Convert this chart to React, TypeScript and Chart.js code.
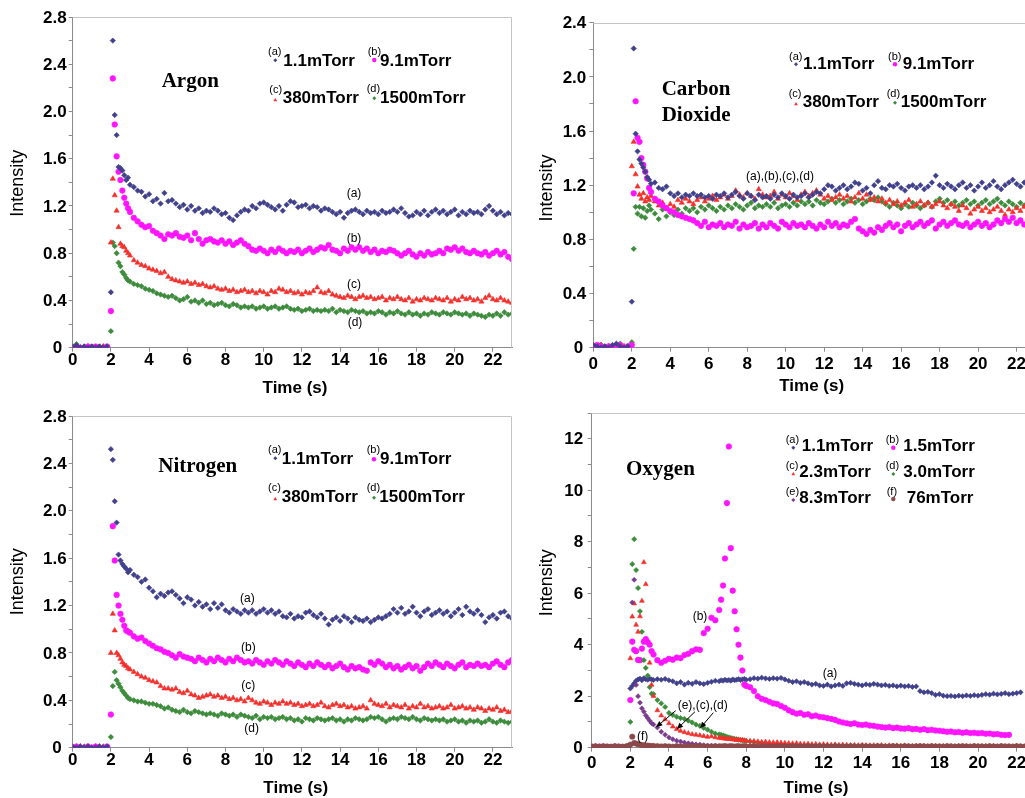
import React, { useEffect, useRef } from "react";
import { Chart, registerables } from "chart.js";

Chart.register(...registerables);

// ---------------- sampling grids (x values) ----------------
function buildTimes(segs: number[][]): number[] {
  const out: number[] = [];
  for (const [a, b, s] of segs) {
    const n = Math.round((b - a) / s);
    for (let i = 0; i <= n; i++) out.push(Math.round((a + i * s) * 100) / 100);
  }
  return out;
}
const T_STD = buildTimes([[0, 1.8, 0.2], [2.0, 3.0, 0.1], [3.2, 23.0, 0.2]]);
const T_O2 = buildTimes([[0, 1.8, 0.2], [1.9, 3.2, 0.1], [3.4, 6.6, 0.2], [6.7, 8.0, 0.1], [8.2, 23.0, 0.2]]);

// ---------------- tick labels ----------------
const X_LABELS = ["0", "2", "4", "6", "8", "10", "12", "14", "16", "18", "20", "22"];
const Y_LABELS_28 = ["0", "0.4", "0.8", "1.2", "1.6", "2.0", "2.4", "2.8"];
const Y_LABELS_24 = ["0", "0.4", "0.8", "1.2", "1.6", "2.0", "2.4"];
const Y_LABELS_O2 = ["0", "2", "4", "6", "8", "10", "12"];

// ---------------- Argon ----------------
const ARGON_A = [
  0.01, 0.02, 0.00, 0.01, 0.00, 0.01, 0.00, 0.01, 0.00, 0.01,
  0.47, 2.60, 1.97, 1.80, 1.53, 1.52, 1.50, 1.46, 1.42, 1.44, 1.38,
  1.36, 1.33, 1.32, 1.28, 1.30, 1.24, 1.26, 1.22, 1.31, 1.24,
  1.25, 1.22, 1.19, 1.21, 1.17, 1.20, 1.16, 1.18, 1.14, 1.16,
  1.15, 1.18, 1.16, 1.13, 1.14, 1.10, 1.08, 1.12, 1.15, 1.17,
  1.16, 1.20, 1.18, 1.22, 1.23, 1.21, 1.19, 1.17, 1.20, 1.16,
  1.21, 1.24, 1.23, 1.19, 1.20, 1.21, 1.18, 1.20, 1.19, 1.16,
  1.18, 1.17, 1.15, 1.13, 1.15, 1.10, 1.14, 1.16, 1.17, 1.15,
  1.13, 1.16, 1.14, 1.15, 1.13, 1.16, 1.14, 1.15, 1.17, 1.15,
  1.18, 1.14, 1.11, 1.12, 1.15, 1.13, 1.16, 1.12, 1.15, 1.17,
  1.14, 1.16, 1.13, 1.15, 1.17, 1.12, 1.15, 1.13, 1.16, 1.14,
  1.15, 1.13, 1.17, 1.20, 1.16, 1.13, 1.15, 1.12, 1.14, 1.13,
];
const ARGON_B = [
  0.00, 0.01, 0.00, 0.00, 0.01, 0.00, 0.01, 0.00, 0.00, 0.01,
  0.31, 2.28, 1.89, 1.62, 1.49, 1.42, 1.33, 1.27, 1.22, 1.18, 1.15,
  1.10, 1.07, 1.04, 1.02, 1.03, 0.99, 0.97, 0.95, 0.92, 0.96,
  0.95, 0.97, 0.94, 0.93, 0.95, 0.91, 0.97, 0.92, 0.88, 0.91,
  0.92, 0.90, 0.89, 0.91, 0.88, 0.90, 0.87, 0.89, 0.91, 0.88,
  0.86, 0.83, 0.82, 0.84, 0.82, 0.80, 0.83, 0.81, 0.84, 0.82,
  0.80, 0.82, 0.81, 0.83, 0.80, 0.82, 0.84, 0.81, 0.83, 0.85,
  0.84, 0.87, 0.83, 0.82, 0.80, 0.84, 0.82, 0.85, 0.83, 0.85,
  0.82, 0.84, 0.81, 0.83, 0.80, 0.82, 0.81, 0.83, 0.82, 0.80,
  0.78, 0.80, 0.82, 0.79, 0.77, 0.80, 0.78, 0.81, 0.79, 0.80,
  0.82, 0.80, 0.84, 0.83, 0.85, 0.82, 0.84, 0.81, 0.80, 0.82,
  0.80, 0.79, 0.81, 0.78, 0.80, 0.82, 0.79, 0.81, 0.77, 0.75,
];
const ARGON_C = [
  0.00, 0.01, 0.00, 0.00, 0.01, 0.00, 0.00, 0.00, 0.01, 0.00,
  0.89, 1.43, 1.29, 1.16, 1.02, 0.88, 0.86, 0.85, 0.82, 0.80, 0.78,
  0.74, 0.72, 0.70, 0.69, 0.67, 0.66, 0.65, 0.63, 0.64, 0.60,
  0.58, 0.57, 0.56, 0.55, 0.56, 0.54, 0.55, 0.53, 0.54, 0.52,
  0.51, 0.52, 0.50, 0.49, 0.50, 0.48, 0.49, 0.47, 0.48, 0.49,
  0.47, 0.48, 0.46, 0.48, 0.47, 0.45, 0.48, 0.47, 0.50, 0.49,
  0.47, 0.48, 0.46, 0.47, 0.45, 0.47, 0.46, 0.48, 0.51, 0.47,
  0.46, 0.48, 0.45, 0.44, 0.43, 0.42, 0.44, 0.43, 0.41, 0.43,
  0.44, 0.42, 0.43, 0.41, 0.42, 0.43, 0.40, 0.42, 0.41, 0.43,
  0.41, 0.40, 0.42, 0.39, 0.41, 0.40, 0.42, 0.41, 0.40, 0.42,
  0.41, 0.40, 0.42, 0.39, 0.41, 0.40, 0.43, 0.41, 0.42, 0.40,
  0.41, 0.39, 0.42, 0.44, 0.41, 0.40, 0.42, 0.40, 0.39, 0.38,
];
const ARGON_D = [
  0.01, 0.03, 0.00, 0.01, 0.00, 0.01, 0.00, 0.01, 0.01, 0.00,
  0.14, 0.89, 0.86, 0.80, 0.72, 0.69, 0.64, 0.62, 0.59, 0.57, 0.56,
  0.54, 0.53, 0.52, 0.50, 0.49, 0.48, 0.46, 0.45, 0.44, 0.43,
  0.44, 0.42, 0.40, 0.41, 0.43, 0.39, 0.40, 0.38, 0.40, 0.37,
  0.38, 0.36, 0.37, 0.38, 0.36, 0.35, 0.37, 0.36, 0.34, 0.35,
  0.34, 0.35, 0.33, 0.34, 0.35, 0.33, 0.34, 0.35, 0.33, 0.34,
  0.35, 0.33, 0.32, 0.33, 0.31, 0.32, 0.33, 0.31, 0.32, 0.31,
  0.32, 0.31, 0.33, 0.30, 0.32, 0.31, 0.30, 0.32, 0.31, 0.30,
  0.31, 0.29, 0.30, 0.29, 0.31, 0.30, 0.28, 0.30, 0.29, 0.31,
  0.29, 0.28, 0.30, 0.28, 0.29, 0.27, 0.29, 0.28, 0.30, 0.29,
  0.28, 0.30, 0.29, 0.28, 0.30, 0.29, 0.28, 0.29, 0.27, 0.29,
  0.28, 0.27, 0.26, 0.28, 0.27, 0.29, 0.27, 0.30, 0.28, 0.29,
];

// ---------------- Carbon dioxide ----------------
const CO2_A = [
  0.02, 0.01, 0.00, 0.01, 0.00, 0.02, 0.03, 0.01, 0.00, 0.01,
  0.34, 2.21, 1.58, 1.45, 1.39, 1.36, 1.33, 1.30, 1.26, 1.24, 1.21,
  1.22, 1.18, 1.17, 1.19, 1.14, 1.12, 1.14, 1.11, 1.13, 1.12,
  1.14, 1.12, 1.13, 1.11, 1.12, 1.10, 1.13, 1.12, 1.14, 1.11,
  1.13, 1.15, 1.12, 1.10, 1.14, 1.12, 1.09, 1.13, 1.11, 1.12,
  1.10, 1.13, 1.11, 1.14, 1.12, 1.10, 1.13, 1.11, 1.12, 1.14,
  1.11, 1.13, 1.15, 1.14, 1.17, 1.20, 1.19, 1.16, 1.18, 1.20,
  1.17, 1.19, 1.22, 1.21, 1.16, 1.18, 1.14, 1.20, 1.23, 1.18,
  1.17, 1.20, 1.19, 1.21, 1.18, 1.16, 1.19, 1.20, 1.18, 1.20,
  1.17, 1.19, 1.22, 1.27, 1.20, 1.18, 1.21, 1.19, 1.17, 1.20,
  1.22, 1.18, 1.20, 1.16, 1.19, 1.22, 1.18, 1.20, 1.23, 1.19,
  1.17, 1.20, 1.22, 1.24, 1.21, 1.19, 1.22, 1.25, 1.23, 1.21,
];
const CO2_B = [
  0.00, 0.02, 0.01, 0.00, 0.01, 0.00, 0.01, 0.02, 0.00, 0.01,
  0.02, 1.14, 1.82, 1.55, 1.52, 1.40, 1.35, 1.30, 1.25, 1.18, 1.15,
  1.10, 1.08, 1.05, 1.03, 1.01, 1.00, 0.98, 0.97, 0.96, 0.95,
  0.94, 0.92, 0.90, 0.93, 0.89, 0.91, 0.90, 0.92, 0.89, 0.91,
  0.90, 0.93, 0.88, 0.91, 0.89, 0.90, 0.92, 0.88, 0.91, 0.89,
  0.92, 0.90, 0.88, 0.93, 0.91, 0.89, 0.92, 0.90, 0.91, 0.89,
  0.92, 0.90, 0.88, 0.91, 0.89, 0.93, 0.90, 0.92, 0.89, 0.91,
  0.90, 0.93, 0.95, 0.88, 0.86, 0.84, 0.87, 0.85, 0.89, 0.87,
  0.90, 0.92, 0.89, 0.91, 0.86, 0.90, 0.92, 0.89, 0.91, 0.93,
  0.90, 0.92, 0.94, 0.88, 0.91, 0.93, 0.90, 0.92, 0.94, 0.91,
  0.90, 0.92, 0.89, 0.91, 0.93, 0.90, 0.92, 0.89, 0.91, 0.94,
  0.92, 0.95, 0.93, 0.96, 0.92, 0.94, 0.91, 0.95, 0.93, 0.94,
];
const CO2_C = [
  0.01, 0.00, 0.02, 0.00, 0.01, 0.00, 0.02, 0.00, 0.01, 0.00,
  1.34, 1.52, 1.28, 1.19, 1.13, 1.10, 1.14, 1.08, 1.11, 1.09, 1.12,
  1.08, 1.05, 1.07, 1.03, 1.06, 1.04, 1.09, 1.07, 1.10, 1.08,
  1.06, 1.09, 1.11, 1.08, 1.10, 1.12, 1.09, 1.11, 1.13, 1.10,
  1.12, 1.16, 1.13, 1.11, 1.14, 1.12, 1.10, 1.17, 1.13, 1.11,
  1.12, 1.15, 1.10, 1.13, 1.11, 1.14, 1.12, 1.09, 1.13, 1.15,
  1.12, 1.14, 1.16, 1.13, 1.10, 1.12, 1.09, 1.11, 1.13, 1.10,
  1.12, 1.08, 1.11, 1.14, 1.10, 1.13, 1.09, 1.11, 1.08, 1.10,
  1.07, 1.09, 1.06, 1.08, 1.05, 1.07, 1.09, 1.04, 1.06, 1.08,
  1.05, 1.07, 1.04, 1.06, 1.08, 1.05, 1.03, 1.06, 1.04, 1.01,
  1.05, 1.03, 0.99, 1.02, 1.04, 1.01, 1.03, 1.00, 1.02, 1.04,
  1.01, 0.98, 1.02, 1.00, 1.03, 1.01, 1.04, 1.02, 1.05, 1.03,
];
const CO2_D = [
  0.00, 0.01, 0.02, 0.01, 0.00, 0.01, 0.02, 0.03, 0.00, 0.01,
  0.04, 0.73, 1.04, 0.99, 1.04, 0.97, 1.03, 0.96, 1.01, 1.05, 1.02,
  0.99, 0.95, 1.02, 0.97, 1.00, 0.98, 1.02, 0.99, 1.03, 1.01,
  1.03, 1.00, 1.04, 1.02, 1.05, 1.03, 1.01, 1.04, 1.02, 1.05,
  1.03, 1.06, 1.04, 1.02, 1.05, 1.07, 1.03, 1.05, 1.04, 1.06,
  1.04, 1.07, 1.03, 1.05, 1.06, 1.04, 1.07, 1.05, 1.08, 1.06,
  1.08, 1.05, 1.09, 1.07, 1.06, 1.08, 1.10, 1.07, 1.09, 1.06,
  1.08, 1.10, 1.07, 1.09, 1.06, 1.08, 1.10, 1.09, 1.11, 1.08,
  1.06, 1.04, 1.07, 1.05, 1.03, 1.06, 1.04, 1.07, 1.05, 1.03,
  1.05, 1.07, 1.04, 1.08, 1.10, 1.07, 1.09, 1.06, 1.08, 1.05,
  1.07, 1.09, 1.06, 1.08, 1.05, 1.07, 1.09, 1.06, 1.08, 1.10,
  1.07, 1.05, 1.08, 1.06, 1.04, 1.07, 1.05, 1.08, 1.06, 1.07,
];

// ---------------- Nitrogen ----------------
const N2_A = [
  0.01, 0.00, 0.01, 0.00, 0.01, 0.00, 0.00, 0.01, 0.00, 0.01,
  2.52, 2.43, 2.08, 1.90, 1.63, 1.58, 1.55, 1.53, 1.51, 1.48, 1.50,
  1.46, 1.44, 1.40, 1.42, 1.35, 1.32, 1.27, 1.30, 1.28, 1.31,
  1.32, 1.29, 1.26, 1.22, 1.27, 1.25, 1.20, 1.23, 1.19, 1.21,
  1.17, 1.22, 1.18, 1.21, 1.16, 1.14, 1.17, 1.15, 1.13, 1.16,
  1.14, 1.16, 1.13, 1.15, 1.17, 1.14, 1.16, 1.13, 1.15, 1.11,
  1.10, 1.13, 1.09, 1.11, 1.10, 1.14, 1.15, 1.12, 1.10, 1.13,
  1.09, 1.04, 1.08, 1.10, 1.07, 1.11, 1.09, 1.06, 1.10, 1.08,
  1.07, 1.09, 1.06, 1.08, 1.10, 1.09, 1.11, 1.13, 1.17, 1.14,
  1.18, 1.13, 1.15, 1.19, 1.14, 1.11, 1.15, 1.17, 1.12, 1.14,
  1.16, 1.13, 1.15, 1.11, 1.14, 1.17, 1.12, 1.19, 1.15, 1.13,
  1.16, 1.12, 1.06, 1.10, 1.12, 1.09, 1.14, 1.15, 1.11, 1.09,
];
const N2_B = [
  0.00, 0.01, 0.00, 0.00, 0.01, 0.00, 0.01, 0.00, 0.00, 0.01,
  0.28, 1.87, 1.58, 1.29, 1.20, 1.13, 1.08, 1.03, 0.99, 0.98, 0.97,
  0.94, 0.92, 0.93, 0.90, 0.88, 0.86, 0.84, 0.83, 0.81, 0.80,
  0.78, 0.76, 0.79, 0.77, 0.76, 0.75, 0.73, 0.76, 0.74, 0.72,
  0.75, 0.73, 0.76, 0.74, 0.72, 0.75, 0.73, 0.76, 0.74, 0.72,
  0.73, 0.71, 0.74, 0.72, 0.70, 0.73, 0.71, 0.74, 0.72, 0.70,
  0.73, 0.71, 0.69, 0.72, 0.70, 0.68, 0.71, 0.69, 0.72, 0.70,
  0.68, 0.70, 0.67, 0.69, 0.71, 0.68, 0.66, 0.69, 0.67, 0.68,
  0.66, 0.65, 0.72, 0.70, 0.73, 0.71, 0.68, 0.70, 0.67, 0.69,
  0.66, 0.68, 0.70, 0.67, 0.69, 0.65, 0.68, 0.71, 0.69, 0.72,
  0.70, 0.68, 0.71, 0.69, 0.67, 0.70, 0.72, 0.68, 0.70, 0.69,
  0.71, 0.69, 0.70, 0.68, 0.71, 0.73, 0.70, 0.68, 0.72, 0.74,
];
const N2_C = [
  0.00, 0.00, 0.01, 0.00, 0.01, 0.00, 0.00, 0.01, 0.00, 0.00,
  0.80, 1.13, 0.99, 0.80, 0.78, 0.75, 0.72, 0.70, 0.69, 0.67, 0.66,
  0.64, 0.62, 0.60, 0.59, 0.57, 0.56, 0.55, 0.52, 0.50, 0.50,
  0.49, 0.50, 0.47, 0.46, 0.48, 0.45, 0.44, 0.42, 0.43, 0.44,
  0.45, 0.43, 0.44, 0.42, 0.43, 0.41, 0.42, 0.40, 0.41, 0.39,
  0.42, 0.40, 0.38, 0.37, 0.39, 0.38, 0.36, 0.38, 0.37, 0.39,
  0.37, 0.38, 0.36, 0.37, 0.35, 0.36, 0.37, 0.35, 0.36, 0.38,
  0.35, 0.34, 0.36, 0.37, 0.35, 0.36, 0.34, 0.35, 0.33, 0.34,
  0.35, 0.33, 0.40, 0.37, 0.36, 0.35, 0.37, 0.34, 0.36, 0.35,
  0.34, 0.36, 0.33, 0.35, 0.34, 0.37, 0.34, 0.35, 0.33, 0.34,
  0.35, 0.33, 0.34, 0.36, 0.33, 0.34, 0.35, 0.33, 0.34, 0.32,
  0.34, 0.33, 0.31, 0.33, 0.32, 0.34, 0.31, 0.32, 0.30, 0.31,
];
const N2_D = [
  0.00, 0.01, 0.00, 0.01, 0.00, 0.00, 0.01, 0.00, 0.01, 0.00,
  0.09, 0.52, 0.64, 0.57, 0.54, 0.51, 0.48, 0.46, 0.44, 0.42, 0.41,
  0.40, 0.39, 0.39, 0.38, 0.37, 0.37, 0.36, 0.35, 0.33, 0.34,
  0.32, 0.31, 0.30, 0.32, 0.30, 0.29, 0.31, 0.30, 0.29, 0.28,
  0.29, 0.28, 0.27, 0.29, 0.28, 0.27, 0.28, 0.26, 0.28, 0.27,
  0.26, 0.25, 0.27, 0.24, 0.26, 0.25, 0.26, 0.24, 0.25, 0.26,
  0.24, 0.25, 0.23, 0.24, 0.22, 0.25, 0.24, 0.23, 0.25, 0.24,
  0.23, 0.24, 0.25, 0.23, 0.24, 0.22, 0.24, 0.23, 0.25, 0.24,
  0.23, 0.24, 0.26, 0.25, 0.26, 0.24, 0.22, 0.24, 0.25, 0.24,
  0.26, 0.25, 0.24, 0.26, 0.24, 0.23, 0.25, 0.24, 0.23, 0.24,
  0.23, 0.24, 0.22, 0.23, 0.24, 0.22, 0.23, 0.21, 0.23, 0.22,
  0.23, 0.21, 0.22, 0.24, 0.22, 0.21, 0.23, 0.22, 0.21, 0.22,
];

// ---------------- Oxygen ----------------
const O2_A = [
  0.03, 0.04, 0.02, 0.03, 0.04, 0.03, 0.02, 0.04, 0.03, 0.03,
  0.05, 2.30, 2.40, 2.50, 2.60, 2.65, 2.68, 2.62, 2.70, 2.66, 2.64, 2.68, 2.65, 2.63,
  2.66, 2.64, 2.67, 2.62, 2.58, 2.50, 2.55, 2.45, 2.52, 2.48, 2.55, 2.50, 2.47, 2.52, 2.56, 2.60, 2.58,
  2.62, 2.60, 2.64, 2.61, 2.63, 2.60, 2.65, 2.62, 2.64, 2.66, 2.63, 2.65, 2.67, 2.64,
  2.66, 2.70, 2.68, 2.72, 2.69, 2.67, 2.70, 2.68, 2.71, 2.65,
  2.60, 2.55, 2.58, 2.52, 2.55, 2.50, 2.45, 2.48, 2.42, 2.40,
  2.45, 2.38, 2.42, 2.45, 2.40, 2.50, 2.52, 2.48, 2.45, 2.42,
  2.46, 2.44, 2.48, 2.45, 2.42, 2.44, 2.40, 2.42, 2.38, 2.41,
  2.38, 2.40, 2.36, 2.38, 2.20, 2.15, 2.17, 2.12, 2.05, 2.08,
  2.02, 2.00, 2.01, 1.99, 2.02, 2.00, 2.03, 2.01, 2.04, 2.02,
  2.05, 2.08, 2.06, 2.10, 2.07, 2.09, 2.12, 2.08, 2.10, 2.12,
  2.15, null, null, null, null,
];
const O2_B = [
  0.03, 0.02, 0.04, 0.03, 0.02, 0.03, 0.04, 0.02, 0.03, 0.02,
  0.03, 1.85, 4.12, 3.80, 3.75, 3.41, 3.40, 3.85, 4.12, 4.22, 4.10, 4.00, 3.75, 3.62,
  3.40, 3.30, 3.38, 3.45, 3.42, 3.50, 3.48, 3.60, 3.65, 3.75, 3.82, 3.80, 4.45, 4.62, 5.05, 4.95, 5.35,
  5.75, 6.30, 7.35, 9.50, 11.70, 7.75, 6.10, 5.30, 4.60, 4.00, 3.50, 3.00, 2.45, 2.40,
  2.35, 2.20, 2.00, 1.90, 1.85, 1.78, 1.72, 1.70, 1.62, 1.55,
  1.45, 1.38, 1.32, 1.35, 1.28, 1.30, 1.22, 1.25, 1.20, 1.18,
  1.15, 1.12, 1.08, 1.02, 0.98, 0.95, 0.92, 0.95, 0.90, 0.88,
  0.90, 0.86, 0.85, 0.82, 0.80, 0.78, 0.80, 0.76, 0.78, 0.75,
  0.74, 0.76, 0.72, 0.73, 0.70, 0.72, 0.68, 0.70, 0.67, 0.66,
  0.64, 0.62, 0.63, 0.60, 0.61, 0.58, 0.60, 0.57, 0.58, 0.56,
  0.57, 0.54, 0.55, 0.52, 0.53, 0.50, 0.49, 0.50, null, null,
  null, null, null, null, null,
];
const O2_C = [
  0.02, 0.03, 0.02, 0.04, 0.02, 0.03, 0.02, 0.03, 0.02, 0.03,
  0.05, 3.47, 5.09, 5.60, 4.77, 4.50, 5.10, 5.70, 7.20, 6.35, null, 3.30, 2.44, 2.00,
  1.45, 1.25, 1.10, 0.95, 0.82, 0.72, 0.65, 0.60, 0.56, 0.52, 0.50, 0.48, 0.45, 0.42, 0.44, 0.40, 0.38,
  0.37, 0.36, 0.35, 0.34, 0.33, 0.34, 0.32, 0.31, 0.30, 0.31, 0.29, 0.30, 0.28, 0.27,
  0.26, 0.25, 0.24, 0.22, 0.23, 0.21, 0.20, 0.21, 0.19, 0.18,
  0.17, 0.16, 0.17, 0.15, 0.14, 0.15, 0.13, 0.14, 0.12, 0.13,
  0.12, 0.11, 0.12, 0.10, 0.11, 0.10, 0.09, 0.10, 0.09, 0.10,
  0.09, 0.08, 0.09, 0.08, 0.09, 0.07, 0.08, 0.07, 0.08, 0.07,
  0.08, 0.07, 0.06, 0.07, 0.06, 0.07, 0.06, 0.07, 0.06, 0.05,
  0.06, 0.05, 0.06, 0.05, 0.06, 0.05, 0.06, 0.05, 0.06, 0.05,
  0.05, 0.06, 0.05, 0.06, 0.05, 0.06, 0.05, 0.04, 0.05, 0.06,
  0.05, 0.04, 0.05, 0.06, 0.05,
];
const O2_D = [
  0.03, 0.04, 0.03, 0.04, 0.03, 0.04, 0.03, 0.04, 0.03, 0.04,
  0.05, 1.00, 7.13, 8.10, 6.90, 6.20, 5.30, 4.50, 3.40, 3.10, 2.80, 2.35, 2.10, 2.08,
  1.85, 1.72, 1.58, 1.35, 1.27, 1.20, 1.15, 1.12, 1.05, 0.98, 0.90, 0.85, 0.77, 0.70, 0.62, 0.55, 0.52,
  0.50, 0.48, 0.45, 0.42, 0.40, 0.38, 0.36, 0.34, 0.33, 0.31, 0.30, 0.28, 0.27, 0.26,
  0.24, 0.22, 0.20, 0.18, 0.16, 0.15, 0.13, 0.12, 0.10, 0.09,
  0.08, 0.07, 0.07, 0.06, 0.06, 0.05, 0.05, 0.04, 0.05, 0.04,
  0.04, 0.03, 0.04, 0.03, 0.04, 0.03, 0.04, 0.03, 0.04, 0.03,
  0.03, 0.04, 0.03, 0.04, 0.03, 0.04, 0.03, 0.04, 0.03, 0.04,
  0.03, 0.04, 0.03, 0.04, 0.03, 0.04, 0.03, 0.04, 0.03, 0.04,
  0.04, 0.03, 0.04, 0.03, 0.04, 0.03, 0.04, 0.03, 0.04, 0.03,
  0.03, 0.04, 0.03, 0.04, 0.03, 0.04, 0.03, 0.04, 0.03, 0.04,
  0.03, 0.04, 0.03, 0.04, 0.03,
];
const O2_E = [
  0.03, 0.02, 0.03, 0.02, 0.03, 0.02, 0.03, 0.02, 0.03, 0.02,
  0.05, 0.10, 5.64, 6.52, 2.44, 2.00, 1.75, 1.53, 1.40, 1.25, 1.15, 1.05, 0.95, 0.90,
  0.78, 0.62, 0.50, 0.40, 0.33, 0.27, 0.24, 0.20, 0.17, 0.15, 0.13, 0.12, 0.10, 0.09, 0.08, 0.07, 0.06,
  0.06, 0.05, 0.06, 0.05, 0.05, 0.04, 0.05, 0.04, 0.05, 0.04, 0.04, 0.03, 0.04, 0.03,
  0.03, 0.04, 0.03, 0.03, 0.04, 0.03, 0.03, 0.04, 0.03, 0.03,
  0.04, 0.03, 0.03, 0.04, 0.03, 0.03, 0.04, 0.03, 0.03, 0.04,
  0.03, 0.03, 0.04, 0.03, 0.03, 0.04, 0.03, 0.03, 0.04, 0.03,
  0.03, 0.04, 0.03, 0.03, 0.04, 0.03, 0.03, 0.04, 0.03, 0.03,
  0.04, 0.03, 0.03, 0.04, 0.03, 0.03, 0.04, 0.03, 0.03, 0.04,
  0.03, 0.03, 0.04, 0.03, 0.03, 0.04, 0.03, 0.03, 0.04, 0.03,
  0.03, 0.04, 0.03, 0.03, 0.04, 0.03, 0.03, 0.04, 0.03, 0.03,
  0.04, 0.03, 0.03, 0.04, 0.03,
];
const O2_F = [
  0.05, 0.06, 0.04, 0.06, 0.05, 0.04, 0.06, 0.05, 0.04, 0.06,
  0.06, 0.12, 0.43, 0.18, 0.16, 0.13, 0.12, 0.10, 0.09, 0.08, 0.08, 0.07, 0.06, 0.07,
  0.06, 0.05, 0.06, 0.05, 0.04, 0.06, 0.05, 0.04, 0.06, 0.05, 0.04, 0.05, 0.06, 0.04, 0.05, 0.06, 0.05,
  0.04, 0.05, 0.06, 0.04, 0.05, 0.06, 0.05, 0.04, 0.05, 0.06, 0.04, 0.05, 0.06, 0.05,
  0.05, 0.06, 0.04, 0.05, 0.06, 0.05, 0.04, 0.06, 0.05, 0.05,
  0.04, 0.06, 0.05, 0.05, 0.04, 0.06, 0.05, 0.04, 0.06, 0.05,
  0.05, 0.04, 0.06, 0.05, 0.05, 0.04, 0.06, 0.05, 0.04, 0.06,
  0.05, 0.05, 0.04, 0.06, 0.05, 0.04, 0.05, 0.06, 0.05, 0.04,
  0.06, 0.05, 0.04, 0.05, 0.06, 0.05, 0.04, 0.06, 0.05, 0.05,
  0.04, 0.06, 0.05, 0.04, 0.05, 0.06, 0.05, 0.04, 0.06, 0.05,
  0.05, 0.04, 0.06, 0.05, 0.04, 0.06, 0.05, 0.05, 0.04, 0.06,
  0.05, 0.04, 0.06, 0.05, 0.05,
];

// ---------------- styles ----------------
const NAVY = "#40408c";
const MAGENTA = "#ff14ff";
const RED = "#f4302c";
const GREEN = "#3c8c3c";
const PURPLE = "#7a3c8e";
const BROWN = "#8c4a4a";
const AXIS = "#8c8c8c";
const FRAME = "#c4c4c4";

type Series = { vals: (number | null)[]; color: string; style: string; r: number; order: number };
type LegendItem = { sup: string; sx: number; sy: number; mx: number; my: number; color: string; style: string; text: string; tx: number; ty: number };
type Note = { text: string; x: number; y: number };
type Panel = {
  id: string; left: number; top: number; w: number; h: number;
  area: [number, number, number, number];
  yMax: number; yMinor: number; yLabels: string[]; yGap: number; yGap0: number;
  times: number[]; series: Series[];
  xLabelDy: number; timeXY: [number, number]; intXY: [number, number];
  titles: Note[]; legend: LegendItem[]; notes: Note[]; arrows: number[][];
};

const sA = (vals: (number | null)[]): Series => ({ vals, color: NAVY, style: "rectRot", r: 2.7, order: 0 });
const sB = (vals: (number | null)[]): Series => ({ vals, color: MAGENTA, style: "circle", r: 2.8, order: 1 });
const sC = (vals: (number | null)[]): Series => ({ vals, color: RED, style: "triangle", r: 3.0, order: 2 });
const sD = (vals: (number | null)[]): Series => ({ vals, color: GREEN, style: "rectRot", r: 2.7, order: 3 });

const PANELS: Panel[] = [
  {
    id: "argon", left: 0, top: 0, w: 520, h: 400,
    area: [72.7, 17, 512, 347.7],
    yMax: 2.8, yMinor: 0.2, yLabels: Y_LABELS_28, yGap: 6, yGap0: 10.5,
    times: T_STD, series: [sA(ARGON_A), sB(ARGON_B), sC(ARGON_C), sD(ARGON_D)],
    xLabelDy: 12.5, timeXY: [295, 388.3], intXY: [18.3, 183.3],
    titles: [{ text: "Argon", x: 161.7, y: 81.7 }],
    legend: [
      { sup: "(a)", sx: 268, sy: 52.3, mx: 275.3, my: 60.3, color: NAVY, style: "rectRot", text: "1.1mTorr", tx: 283.3, ty: 61 },
      { sup: "(b)", sx: 367.7, sy: 52.3, mx: 374.3, my: 60, color: MAGENTA, style: "circle", text: "9.1mTorr", tx: 380, ty: 61 },
      { sup: "(c)", sx: 269.3, sy: 90, mx: 275.3, my: 100, color: RED, style: "triangle", text: "380mTorr", tx: 282.7, ty: 98.3 },
      { sup: "(d)", sx: 366.7, sy: 89.3, mx: 374.3, my: 98.3, color: GREEN, style: "rectRot", text: "1500mTorr", tx: 380, ty: 98.3 },
    ],
    notes: [
      { text: "(a)", x: 354, y: 194 }, { text: "(b)", x: 354, y: 239 },
      { text: "(c)", x: 354, y: 285 }, { text: "(d)", x: 355, y: 323 },
    ],
    arrows: [],
  },
  {
    id: "co2", left: 520, top: 0, w: 540, h: 400,
    area: [593.3, 22.7, 1035.8, 347.7],
    yMax: 2.4, yMinor: 0.2, yLabels: Y_LABELS_24, yGap: 7, yGap0: 10,
    times: T_STD, series: [sA(CO2_A), sB(CO2_B), sC(CO2_C), sD(CO2_D)],
    xLabelDy: 17, timeXY: [811.7, 386.7], intXY: [546.7, 188],
    titles: [{ text: "Carbon", x: 661.7, y: 90 }, { text: "Dioxide", x: 661.7, y: 115.7 }],
    legend: [
      { sup: "(a)", sx: 789, sy: 56.7, mx: 796, my: 64.3, color: NAVY, style: "rectRot", text: "1.1mTorr", tx: 803, ty: 64 },
      { sup: "(b)", sx: 888, sy: 56.7, mx: 895, my: 64.3, color: MAGENTA, style: "circle", text: "9.1mTorr", tx: 902.7, ty: 64 },
      { sup: "(c)", sx: 788.7, sy: 94.3, mx: 796, my: 104, color: RED, style: "triangle", text: "380mTorr", tx: 802.7, ty: 102.7 },
      { sup: "(d)", sx: 886.7, sy: 94.3, mx: 895, my: 102.7, color: GREEN, style: "rectRot", text: "1500mTorr", tx: 900.7, ty: 102.7 },
    ],
    notes: [{ text: "(a),(b),(c),(d)", x: 780, y: 176.7 }],
    arrows: [],
  },
  {
    id: "n2", left: 0, top: 400, w: 520, h: 398,
    area: [72.7, 416, 512, 747.7],
    yMax: 2.8, yMinor: 0.2, yLabels: Y_LABELS_28, yGap: 6, yGap0: 11,
    times: T_STD, series: [sA(N2_A), sB(N2_B), sC(N2_C), sD(N2_D)],
    xLabelDy: 13, timeXY: [295.8, 788.3], intXY: [18.3, 581.7],
    titles: [{ text: "Nitrogen", x: 158.3, y: 466.7 }],
    legend: [
      { sup: "(a)", sx: 268, sy: 450, mx: 275.3, my: 458.3, color: NAVY, style: "rectRot", text: "1.1mTorr", tx: 281.7, ty: 459.3 },
      { sup: "(b)", sx: 366.7, sy: 450, mx: 374, my: 459.3, color: MAGENTA, style: "circle", text: "9.1mTorr", tx: 380, ty: 459.3 },
      { sup: "(c)", sx: 268, sy: 488.3, mx: 275.3, my: 499, color: RED, style: "triangle", text: "380mTorr", tx: 281.7, ty: 497.7 },
      { sup: "(d)", sx: 366.7, sy: 488.3, mx: 374, my: 497.7, color: GREEN, style: "rectRot", text: "1500mTorr", tx: 379.3, ty: 497.7 },
    ],
    notes: [
      { text: "(a)", x: 247.3, y: 599 }, { text: "(b)", x: 248.3, y: 647.3 },
      { text: "(c)", x: 248.3, y: 685.7 }, { text: "(d)", x: 251.7, y: 729 },
    ],
    arrows: [],
  },
  {
    id: "o2", left: 520, top: 400, w: 540, h: 398,
    area: [591.7, 413, 1036, 747.7],
    yMax: 13, yMinor: 1, yLabels: Y_LABELS_O2, yGap: 8.5, yGap0: 9,
    times: T_O2,
    series: [
      { vals: O2_F, color: BROWN, style: "circle", r: 2.7, order: 0 },
      { vals: O2_E, color: PURPLE, style: "rectRot", r: 2.5, order: 1 },
      { vals: O2_C, color: RED, style: "triangle", r: 2.8, order: 2 },
      { vals: O2_D, color: GREEN, style: "rectRot", r: 2.6, order: 3 },
      { vals: O2_B, color: MAGENTA, style: "circle", r: 2.8, order: 4 },
      { vals: O2_A, color: NAVY, style: "rectRot", r: 2.6, order: 5 },
    ],
    xLabelDy: 15.5, timeXY: [816, 788.3], intXY: [546.7, 582.7],
    titles: [{ text: "Oxygen", x: 626, y: 469.3 }],
    legend: [
      { sup: "(a)", sx: 785.7, sy: 440, mx: 793.3, my: 447.7, color: NAVY, style: "rectRot", text: "1.1mTorr", tx: 801.7, ty: 446 },
      { sup: "(b)", sx: 885.7, sy: 440, mx: 893.3, my: 447.7, color: MAGENTA, style: "circle", text: "1.5mTorr", tx: 903.3, ty: 446 },
      { sup: "(c)", sx: 785.7, sy: 466, mx: 793.3, my: 474, color: RED, style: "triangle", text: "2.3mTorr", tx: 799.3, ty: 472.7 },
      { sup: "(d)", sx: 885.7, sy: 466, mx: 893.3, my: 474, color: GREEN, style: "rectRot", text: "3.0mTorr", tx: 903.3, ty: 472.7 },
      { sup: "(e)", sx: 785.7, sy: 491.7, mx: 793.3, my: 500, color: PURPLE, style: "rectRot", text: "8.3mTorr", tx: 799.3, ty: 498.3 },
      { sup: "(f)", sx: 886.7, sy: 491.7, mx: 893.3, my: 499, color: BROWN, style: "circle", text: "76mTorr", tx: 906.7, ty: 498.3 },
    ],
    notes: [
      { text: "(b)", x: 700, y: 616.7 }, { text: "(a)", x: 830, y: 673.3 },
      { text: "(e),(c),(d)", x: 702.7, y: 706 }, { text: "(f)", x: 642.7, y: 736.7 },
    ],
    arrows: [
      [675.7, 710.7, 656, 727.3],
      [695, 711.7, 676.7, 729.3],
      [713.3, 712.7, 700, 728.3],
    ],
  },
];

function drawMarker(ctx: CanvasRenderingContext2D, style: string, x: number, y: number, r: number, color: string) {
  ctx.fillStyle = color;
  ctx.beginPath();
  if (style === "circle") ctx.arc(x, y, r, 0, Math.PI * 2);
  else if (style === "triangle") {
    ctx.moveTo(x, y - r);
    ctx.lineTo(x + r * 0.95, y + r * 0.65);
    ctx.lineTo(x - r * 0.95, y + r * 0.65);
    ctx.closePath();
  } else {
    ctx.moveTo(x, y - r);
    ctx.lineTo(x + r, y);
    ctx.lineTo(x, y + r);
    ctx.lineTo(x - r, y);
    ctx.closePath();
  }
  ctx.fill();
}

const SANS = '"Liberation Sans", Arial, Helvetica, sans-serif';
const SERIF = '"Liberation Serif", "Times New Roman", serif';

function overlayPlugin(p: Panel) {
  return {
    id: "overlay_" + p.id,
    afterDraw(chart: any) {
      const ctx: CanvasRenderingContext2D = chart.ctx;
      const a = chart.chartArea;
      const xs = chart.scales.x;
      const ys = chart.scales.y;
      const ox = p.left;
      const oy = p.top;
      ctx.save();
      // frame (top & right)
      ctx.strokeStyle = FRAME;
      ctx.lineWidth = 1;
      ctx.beginPath();
      const ty = Math.round(a.top) + 0.5;
      const rx = Math.round(a.right) - 0.5;
      ctx.moveTo(a.left, ty);
      ctx.lineTo(rx, ty);
      ctx.lineTo(rx, a.bottom);
      ctx.stroke();

      // y tick labels
      ctx.fillStyle = "#000";
      ctx.font = "bold 17px " + SANS;
      ctx.textAlign = "right";
      ctx.textBaseline = "middle";
      for (const lab of p.yLabels) {
        const v = parseFloat(lab);
        ctx.fillText(lab, a.left - (v === 0 ? p.yGap0 : p.yGap), ys.getPixelForValue(v) + 1);
      }
      // x tick labels
      ctx.textAlign = "center";
      for (const lab of X_LABELS) {
        ctx.fillText(lab, xs.getPixelForValue(parseFloat(lab)), a.bottom + p.xLabelDy);
      }
      // x title
      ctx.fillText("Time (s)", p.timeXY[0] - ox, p.timeXY[1] - oy);
      // y title
      ctx.save();
      ctx.translate(p.intXY[0] - ox, p.intXY[1] - oy);
      ctx.rotate(-Math.PI / 2);
      ctx.font = "18px " + SANS;
      ctx.fillText("Intensity", 0, 0);
      ctx.restore();

      // panel title
      ctx.font = "bold 21px " + SERIF;
      ctx.textAlign = "left";
      for (const t of p.titles) ctx.fillText(t.text, t.x - ox, t.y - oy);

      // legend
      for (const it of p.legend) {
        ctx.fillStyle = "#000";
        ctx.font = "11px " + SANS;
        ctx.textAlign = "left";
        ctx.fillText(it.sup, it.sx - ox, it.sy - oy);
        drawMarker(ctx, it.style, it.mx - ox, it.my - oy, it.style === "circle" ? 2.2 : 2, it.color);
        ctx.fillStyle = "#000";
        ctx.font = "bold 17px " + SANS;
        ctx.fillText(it.text, it.tx - ox, it.ty - oy);
      }

      // curve notes
      ctx.fillStyle = "#000";
      ctx.font = "12px " + SANS;
      ctx.textAlign = "center";
      for (const n of p.notes) ctx.fillText(n.text, n.x - ox, n.y - oy);

      // arrows
      ctx.strokeStyle = "#000";
      ctx.fillStyle = "#000";
      ctx.lineWidth = 1;
      for (const [x1, y1, x2, y2] of p.arrows) {
        const ax1 = x1 - ox, ay1 = y1 - oy, ax2 = x2 - ox, ay2 = y2 - oy;
        const ang = Math.atan2(ay2 - ay1, ax2 - ax1);
        ctx.beginPath();
        ctx.moveTo(ax1, ay1);
        ctx.lineTo(ax2 - Math.cos(ang) * 4, ay2 - Math.sin(ang) * 4);
        ctx.stroke();
        ctx.beginPath();
        ctx.moveTo(ax2, ay2);
        ctx.lineTo(ax2 - Math.cos(ang - 0.4) * 7, ay2 - Math.sin(ang - 0.4) * 7);
        ctx.lineTo(ax2 - Math.cos(ang + 0.4) * 7, ay2 - Math.sin(ang + 0.4) * 7);
        ctx.closePath();
        ctx.fill();
      }
      ctx.restore();
    },
  };
}

function toPoints(times: number[], vals: (number | null)[]) {
  const pts: { x: number; y: number }[] = [];
  const n = Math.min(times.length, vals.length);
  for (let i = 0; i < n; i++) {
    const v = vals[i];
    if (v !== null && v !== undefined) pts.push({ x: times[i], y: v });
  }
  return pts;
}

function PanelChart({ p }: { p: Panel }) {
  const ref = useRef<HTMLCanvasElement | null>(null);
  useEffect(() => {
    if (!ref.current) return;
    const [al, at, ar, ab] = p.area;
    const areaLeft = al - p.left;
    const areaTop = at - p.top;
    const areaRight = ar - p.left;
    const areaBottom = ab - p.top;
    const gridOpts = { drawOnChartArea: false, drawTicks: true, tickLength: 4, color: AXIS, lineWidth: 1 };
    const chart = new Chart(ref.current, {
      type: "scatter",
      data: {
        datasets: p.series.map((s) => ({
          data: toPoints(p.times, s.vals),
          pointStyle: s.style as any,
          pointRadius: s.r,
          pointBorderWidth: 0.6,
          backgroundColor: s.color,
          borderColor: s.color,
          showLine: false,
          order: s.order,
        })),
      },
      options: {
        responsive: false,
        maintainAspectRatio: false,
        animation: false,
        events: [],
        layout: { padding: { left: 0, top: areaTop, right: p.w - areaRight, bottom: 0 } },
        plugins: { legend: { display: false }, tooltip: { enabled: false } },
        scales: {
          x: {
            type: "linear",
            min: 0,
            max: 23,
            afterFit: (s: any) => { s.height = p.h - areaBottom; },
            ticks: { display: false, stepSize: 2, includeBounds: false },
            grid: gridOpts,
            border: { display: true, color: AXIS, width: 1 },
          },
          y: {
            type: "linear",
            min: 0,
            max: p.yMax,
            afterFit: (s: any) => { s.width = areaLeft; },
            ticks: { display: false, stepSize: p.yMinor },
            grid: gridOpts,
            border: { display: true, color: AXIS, width: 1 },
          },
        },
      } as any,
      plugins: [overlayPlugin(p)],
    });
    return () => chart.destroy();
  }, [p]);
  return (
    <canvas
      ref={ref}
      width={p.w}
      height={p.h}
      style={{ position: "absolute", left: p.left, top: p.top, width: p.w, height: p.h }}
    />
  );
}

export default function App() {
  return (
    <div
      style={{
        position: "fixed", left: 0, top: 0, width: 1025, height: 798,
        overflow: "hidden", background: "#ffffff",
      }}
    >
      {PANELS.map((p) => (
        <PanelChart key={p.id} p={p} />
      ))}
    </div>
  );
}
